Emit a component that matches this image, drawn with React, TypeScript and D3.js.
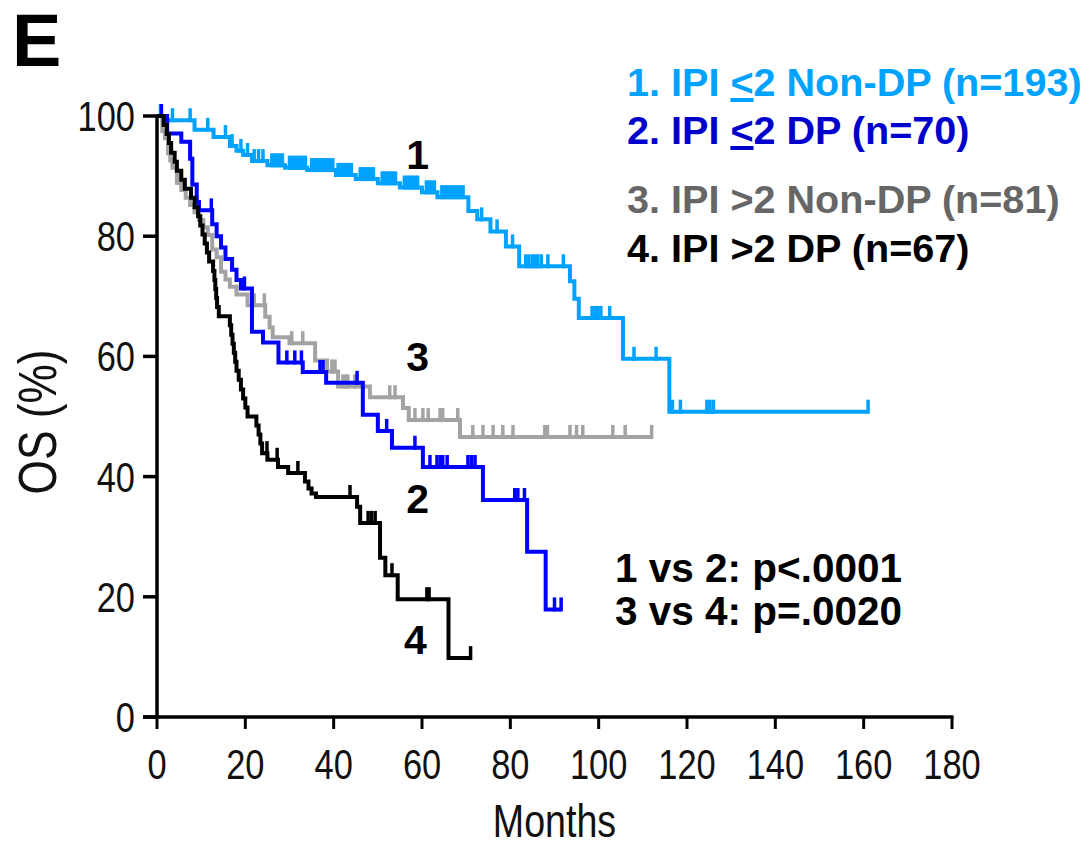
import React from 'react';
import * as d3 from 'd3';

// Axis ticks
const monthTicks = [0, 20, 40, 60, 80, 100, 120, 140, 160, 180];
const osTicks = [0, 20, 40, 60, 80, 100];

// Group 1: IPI <=2 Non-DP (n=193)
const g1Times = [0, 1.5, 8.5, 12.8, 16.5, 18, 19.5, 21.5, 25, 29, 34, 40.5, 45, 50, 55, 60, 63.5, 70.5, 72.5, 75.5, 79, 82, 93.5, 94.5, 95.5, 105.5, 116];
const g1Surv = [100, 99.3, 97.7, 96.5, 95, 94.2, 93.5, 92.5, 91.8, 91.4, 91, 90.2, 89.5, 88.8, 88.1, 87.3, 86.5, 84.2, 82.8, 80.8, 78.3, 75, 72.5, 69.6, 66.4, 59.6, 50.8];
const g1Censor = [
  0.8, 3.5, 7.5, 11.5, 15.5, 17, 19, 20.5, 22, 23, 24, 26, 26.6, 27.2, 27.8, 28.4, 30, 30.6, 31.2, 31.8, 32.4, 33,
  33.6, 35, 35.6, 36.2, 36.8, 37.4, 38, 38.6, 39.2, 39.8, 41, 41.6, 42.2, 42.8, 43.4, 44, 46, 46.6, 47.2, 47.8, 48.4,
  49, 51, 51.6, 52.2, 52.8, 53.4, 54, 56, 56.6, 57.2, 57.8, 58.4, 59, 61, 61.6, 62.2, 62.8, 64.5, 65.1, 65.7, 66.3,
  66.9, 67.5, 68.1, 68.7, 69.3, 73.5, 77, 80.5, 83.5, 84.2, 85, 85.6, 86.2, 87, 88.5, 92, 98.5, 99.2, 99.8, 100.5,
  102.5, 108, 113, 116.7, 118.5, 124.5, 125.2, 126, 161,
];
const g1End = 161;

// Group 2: IPI <=2 DP (n=70)
const g2Times = [0, 2.3, 5.5, 7.5, 8, 9, 9.5, 12.5, 13.5, 14.5, 15.5, 17, 18, 19, 21.5, 24, 27.5, 33, 38.3, 46.6, 50, 53.2, 60.2, 73.8, 83.8, 88];
const g2Surv = [100, 97.1, 95.7, 92.9, 88.6, 85.7, 84.3, 82.0, 80, 78.1, 76.2, 74.4, 72.7, 71.3, 64.1, 62.3, 59, 57.4, 55.6, 50.3, 47.6, 44.8, 41.6, 36.1, 27.5, 17.9];
const g2Censor = [1, 12.3, 19.8, 29.4, 31.2, 32.7, 36.9, 37.6, 45.3, 52, 58.4, 61.8, 63.4, 64.2, 64.7, 65.7, 70.4, 71.2, 72, 81, 81.7, 83.2, 90, 91.5];
const g2End = 91.5;

// Group 3: IPI >2 Non-DP (n=81)
const g3Times = [0, 1.2, 1.8, 2.5, 3, 3.5, 4.5, 5.5, 6.5, 7.5, 8.5, 9.5, 10.5, 11.5, 12.5, 13.5, 14.5, 15.5, 16.5, 18, 20.5, 24.5, 25.5, 26.2, 30, 35.8, 38.5, 41, 48.2, 55.7, 57, 68.6];
const g3Surv = [100, 97.5, 96.3, 93.8, 92.6, 91.4, 88.9, 87.7, 86.4, 85.2, 84, 82.7, 81.5, 80.2, 77.8, 76.5, 74.1, 72.8, 71.6, 70.3, 68.5, 66.6, 64.8, 63.2, 62.2, 59.3, 57.5, 55, 53.2, 51.4, 49.4, 46.6];
const g3Censor = [4.8, 22, 24.3, 30.5, 33, 39.6, 40.3, 42.1, 42.7, 43.2, 44.8, 52.7, 53.9, 58.4, 60.2, 61.4, 64.1, 64.7, 68.1, 71.5, 73.8, 76.1, 78.3, 80.6, 87.8, 88.4, 93.5, 95, 96.4, 103.2, 106, 112];
const g3End = 112;

// Group 4: IPI >2 DP (n=67)
const g4Times = [0, 1.5, 2.2, 2.7, 3.2, 4, 4.5, 5.5, 6.3, 7.7, 8.5, 9.3, 9.8, 10.3, 10.8, 11.3, 11.8, 12.7, 13, 13.2, 13.4, 13.6, 14, 16.5, 16.8, 17.1, 17.4, 17.7, 18, 18.5, 19, 19.5, 20, 20.5, 22.5, 23, 23.4, 23.8, 25, 27.4, 29.7, 33.5, 34.3, 35, 36, 45.3, 46, 50.5, 51.7, 54.5, 66];
const g4Surv = [100, 98.5, 97, 95.5, 93.9, 92.4, 90.9, 89.4, 87.9, 86.4, 84.8, 83.3, 81.8, 80.3, 78.8, 77.3, 75.8, 74.2, 72.7, 71.2, 69.7, 68.2, 66.7, 65.2, 63.6, 62.1, 60.6, 59.1, 57.6, 56.1, 54.5, 53, 51.5, 50, 48.5, 47, 45.5, 43.9, 42.8, 41.6, 40.6, 39.2, 38, 37.2, 36.6, 35, 32.3, 26.5, 23.6, 19.6, 9.8];
const g4Censor = [24.9, 27.2, 31.9, 43.7, 47.8, 48.6, 49.4, 53.2, 61.1, 61.6, 71];
const g4End = 71;

// Legend text
const legendPrefix = ['1. IPI ', '2. IPI ', '3. IPI ', '4. IPI '];
const legendSymbol = ['<', '<', '>', '>'];
const legendUnderlined = [true, true, false, false];
const legendSuffix = ['2 Non-DP (n=193)', '2 DP (n=70)', '2 Non-DP (n=81)', '2 DP (n=67)'];
const curveNumbers = ['1', '2', '3', '4'];
const pValueLines = ['1 vs 2: p<.0001', '3 vs 4: p=.0020'];

const lineColors = ['#00a2ff', '#0000ff', '#a3a3a3', '#000000'];
const legendColors = ['#00a2ff', '#0000cc', '#666666', '#000000'];

const W = 1088;
const H = 848;

const x = d3.scaleLinear().domain([0, 180]).range([157, 952]);
const y = d3.scaleLinear().domain([0, 100]).range([717, 116]);

type Group = { times: number[]; surv: number[]; censor: number[]; end: number; color: string };

const groups: Group[] = [
  { times: g1Times, surv: g1Surv, censor: g1Censor, end: g1End, color: lineColors[0] },
  { times: g3Times, surv: g3Surv, censor: g3Censor, end: g3End, color: lineColors[2] },
  { times: g2Times, surv: g2Surv, censor: g2Censor, end: g2End, color: lineColors[1] },
  { times: g4Times, surv: g4Surv, censor: g4Censor, end: g4End, color: lineColors[3] },
];

function stepPath(g: Group): string {
  const pts: [number, number][] = g.times.map((t, i) => [t, g.surv[i]]);
  pts.push([g.end, g.surv[g.surv.length - 1]]);
  return (
    d3
      .line<[number, number]>()
      .x((d) => x(d[0]))
      .y((d) => y(d[1]))
      .curve(d3.curveStepAfter)(pts) || ''
  );
}

function survivalAt(g: Group, t: number): number {
  let s = g.surv[0];
  for (let i = 0; i < g.times.length; i++) if (g.times[i] <= t) s = g.surv[i];
  return s;
}

const sans = 'Liberation Sans, Arial, sans-serif';

export default function App() {
  const curveLabelPos = [
    { m: 59, p: 91.2 },
    { m: 59, p: 34 },
    { m: 59, p: 57.5 },
    { m: 58.5, p: 10.5 },
  ];
  return (
    <svg width={W} height={H} style={{ position: 'absolute', left: 0, top: 0, background: '#fff' }}>
      <rect x={0} y={0} width={W} height={H} fill="#fff" />
      {/* panel letter */}
      <text x={12} y={66} fontFamily={sans} fontWeight="bold" fontSize={74} fill="#000">
        E
      </text>

      {/* survival curves with censor ticks */}
      {groups.map((g, i) => (
        <g key={i}>
          <path d={stepPath(g)} fill="none" stroke={g.color} strokeWidth={4} strokeLinejoin="miter" strokeLinecap="butt" />
          {g.censor.map((t, j) => {
            const s = survivalAt(g, t);
            return (
              <line key={j} x1={x(t)} x2={x(t)} y1={y(s) - 12} y2={y(s) + 2} stroke={g.color} strokeWidth={3.5} />
            );
          })}
        </g>
      ))}

      {/* axes */}
      <line x1={x(0)} x2={x(0)} y1={y(100) - 1} y2={y(0) + 1.75} stroke="#000" strokeWidth={3.5} />
      <line x1={x(0) - 14} x2={x(180) + 1.5} y1={y(0)} y2={y(0)} stroke="#000" strokeWidth={3.5} />
      {osTicks.map((t) => (
        <g key={t}>
          <line x1={x(0) - 14} x2={x(0)} y1={y(t)} y2={y(t)} stroke="#000" strokeWidth={3.5} />
          <text
            transform={`translate(${x(0) - 22},${y(t) + 15}) scale(0.8,1)`}
            textAnchor="end"
            fontFamily={sans}
            fontSize={43}
            fill="#111"
          >
            {t}
          </text>
        </g>
      ))}
      {monthTicks.map((t) => (
        <g key={t}>
          <line x1={x(t)} x2={x(t)} y1={y(0)} y2={y(0) + 12} stroke="#000" strokeWidth={3} />
          <text
            transform={`translate(${x(t)},${779}) scale(0.8,1)`}
            textAnchor="middle"
            fontFamily={sans}
            fontSize={43}
            fill="#111"
          >
            {t}
          </text>
        </g>
      ))}
      <text
        transform={`translate(${(x(0) + x(180)) / 2},${837}) scale(0.8,1)`}
        textAnchor="middle"
        fontFamily={sans}
        fontSize={47}
        fill="#111"
      >
        Months
      </text>
      <text
        transform={`translate(${56},${422}) rotate(-90) scale(0.82,1)`}
        textAnchor="middle"
        fontFamily={sans}
        fontSize={54}
        fill="#111"
      >
        OS (%)
      </text>

      {/* curve numbers */}
      {curveNumbers.map((n, i) => (
        <text
          key={n}
          x={x(curveLabelPos[i].m)}
          y={y(curveLabelPos[i].p)}
          textAnchor="middle"
          fontFamily={sans}
          fontWeight="bold"
          fontSize={41}
          fill="#000"
        >
          {n}
        </text>
      ))}

      {/* legend */}
      {legendPrefix.map((pre, i) => (
        <text
          key={i}
          x={627}
          y={[96, 144, 213, 262][i]}
          fontFamily={sans}
          fontWeight="bold"
          fontSize={39.6}
          fill={legendColors[i]}
        >
          {pre}
          <tspan
            style={
              legendUnderlined[i]
                ? { textDecoration: 'underline', textDecorationThickness: '6px', textUnderlineOffset: '4px' }
                : undefined
            }
          >
            {legendSymbol[i]}
          </tspan>
          {legendSuffix[i]}
        </text>
      ))}

      {/* log-rank comparisons */}
      {pValueLines.map((s, i) => (
        <text key={i} x={615} y={[582, 625][i]} fontFamily={sans} fontWeight="bold" fontSize={40.5} fill="#000">
          {s}
        </text>
      ))}
    </svg>
  );
}
